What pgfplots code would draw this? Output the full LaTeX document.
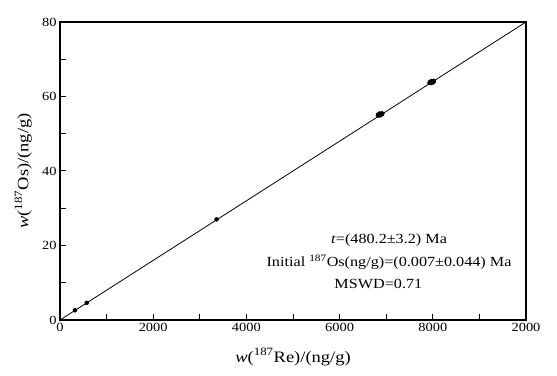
\documentclass[border=0pt]{standalone}
\usepackage{fontspec}
\setmainfont{Liberation Serif}[FakeStretch=1.16]
\usepackage{pgfplots}
\pgfplotsset{compat=1.18}
\begin{document}
\begin{tikzpicture}
\begin{axis}[
  scale only axis, width=466bp, height=298bp,
  xmin=0, xmax=10000, ymin=0, ymax=80,
  axis line style={line width=1.2pt},
  xtick={0,2000,4000,6000,8000,10000},
  xticklabels={0,2000,4000,6000,8000,2000},
  minor xtick={1000,3000,5000,7000,9000},
  ytick={0,20,40,60,80},
  minor ytick={10,30,50,70},
  tick align=inside, xtick pos=bottom, ytick pos=left,
  major tick length=6bp, minor tick length=6bp,
  tick style={line width=1pt, black},
  /pgf/number format/assume math mode=true,
  scaled x ticks=false,
  ticklabel style={font=\fontsize{12.5}{15}\selectfont},
  xlabel={\textit{w}(\textsuperscript{187}Re)/(ng/g)},
  ylabel={\textit{w}(\textsuperscript{187}Os)/(ng/g)},
  label style={font=\fontsize{16}{18}\selectfont},
  xlabel style={at={(axis description cs:0.5,-0.124)}, anchor=center},
  ylabel style={at={(axis description cs:-0.079,0.5)}, anchor=center},
  clip=false,
]
\addplot[black, line width=0.8pt] coordinates {(0,0) (10000,80)};
\addplot[only marks, mark=*, mark size=2bp, black] coordinates {(320,2.6) (573,4.6) (3359,27.0)};
\addplot[only marks, mark=*, mark size=4.5bp, black, mark options={rotate=20, yscale=0.65}] coordinates {(6870,55.2) (7977,63.9)};
\draw[line width=2.2pt] (axis cs:8200,80) -- (axis cs:10000,80);
\node[font=\fontsize{14}{16}\selectfont] at (axis cs:7061,21.5) {\textit{t}=(480.2±3.2) Ma};
\node[font=\fontsize{14}{16}\selectfont] at (axis cs:7061,15.6) {Initial \textsuperscript{187}Os(ng/g)=(0.007±0.044) Ma};
\node[font=\fontsize{14}{16}\selectfont] at (axis cs:6832,9.8) {MSWD=0.71};
\end{axis}
\pgfresetboundingbox
\path ([shift={(-60bp,-56bp)}]current axis.south west) rectangle ([shift={(31bp,22bp)}]current axis.north east);
\end{tikzpicture}
\end{document}
